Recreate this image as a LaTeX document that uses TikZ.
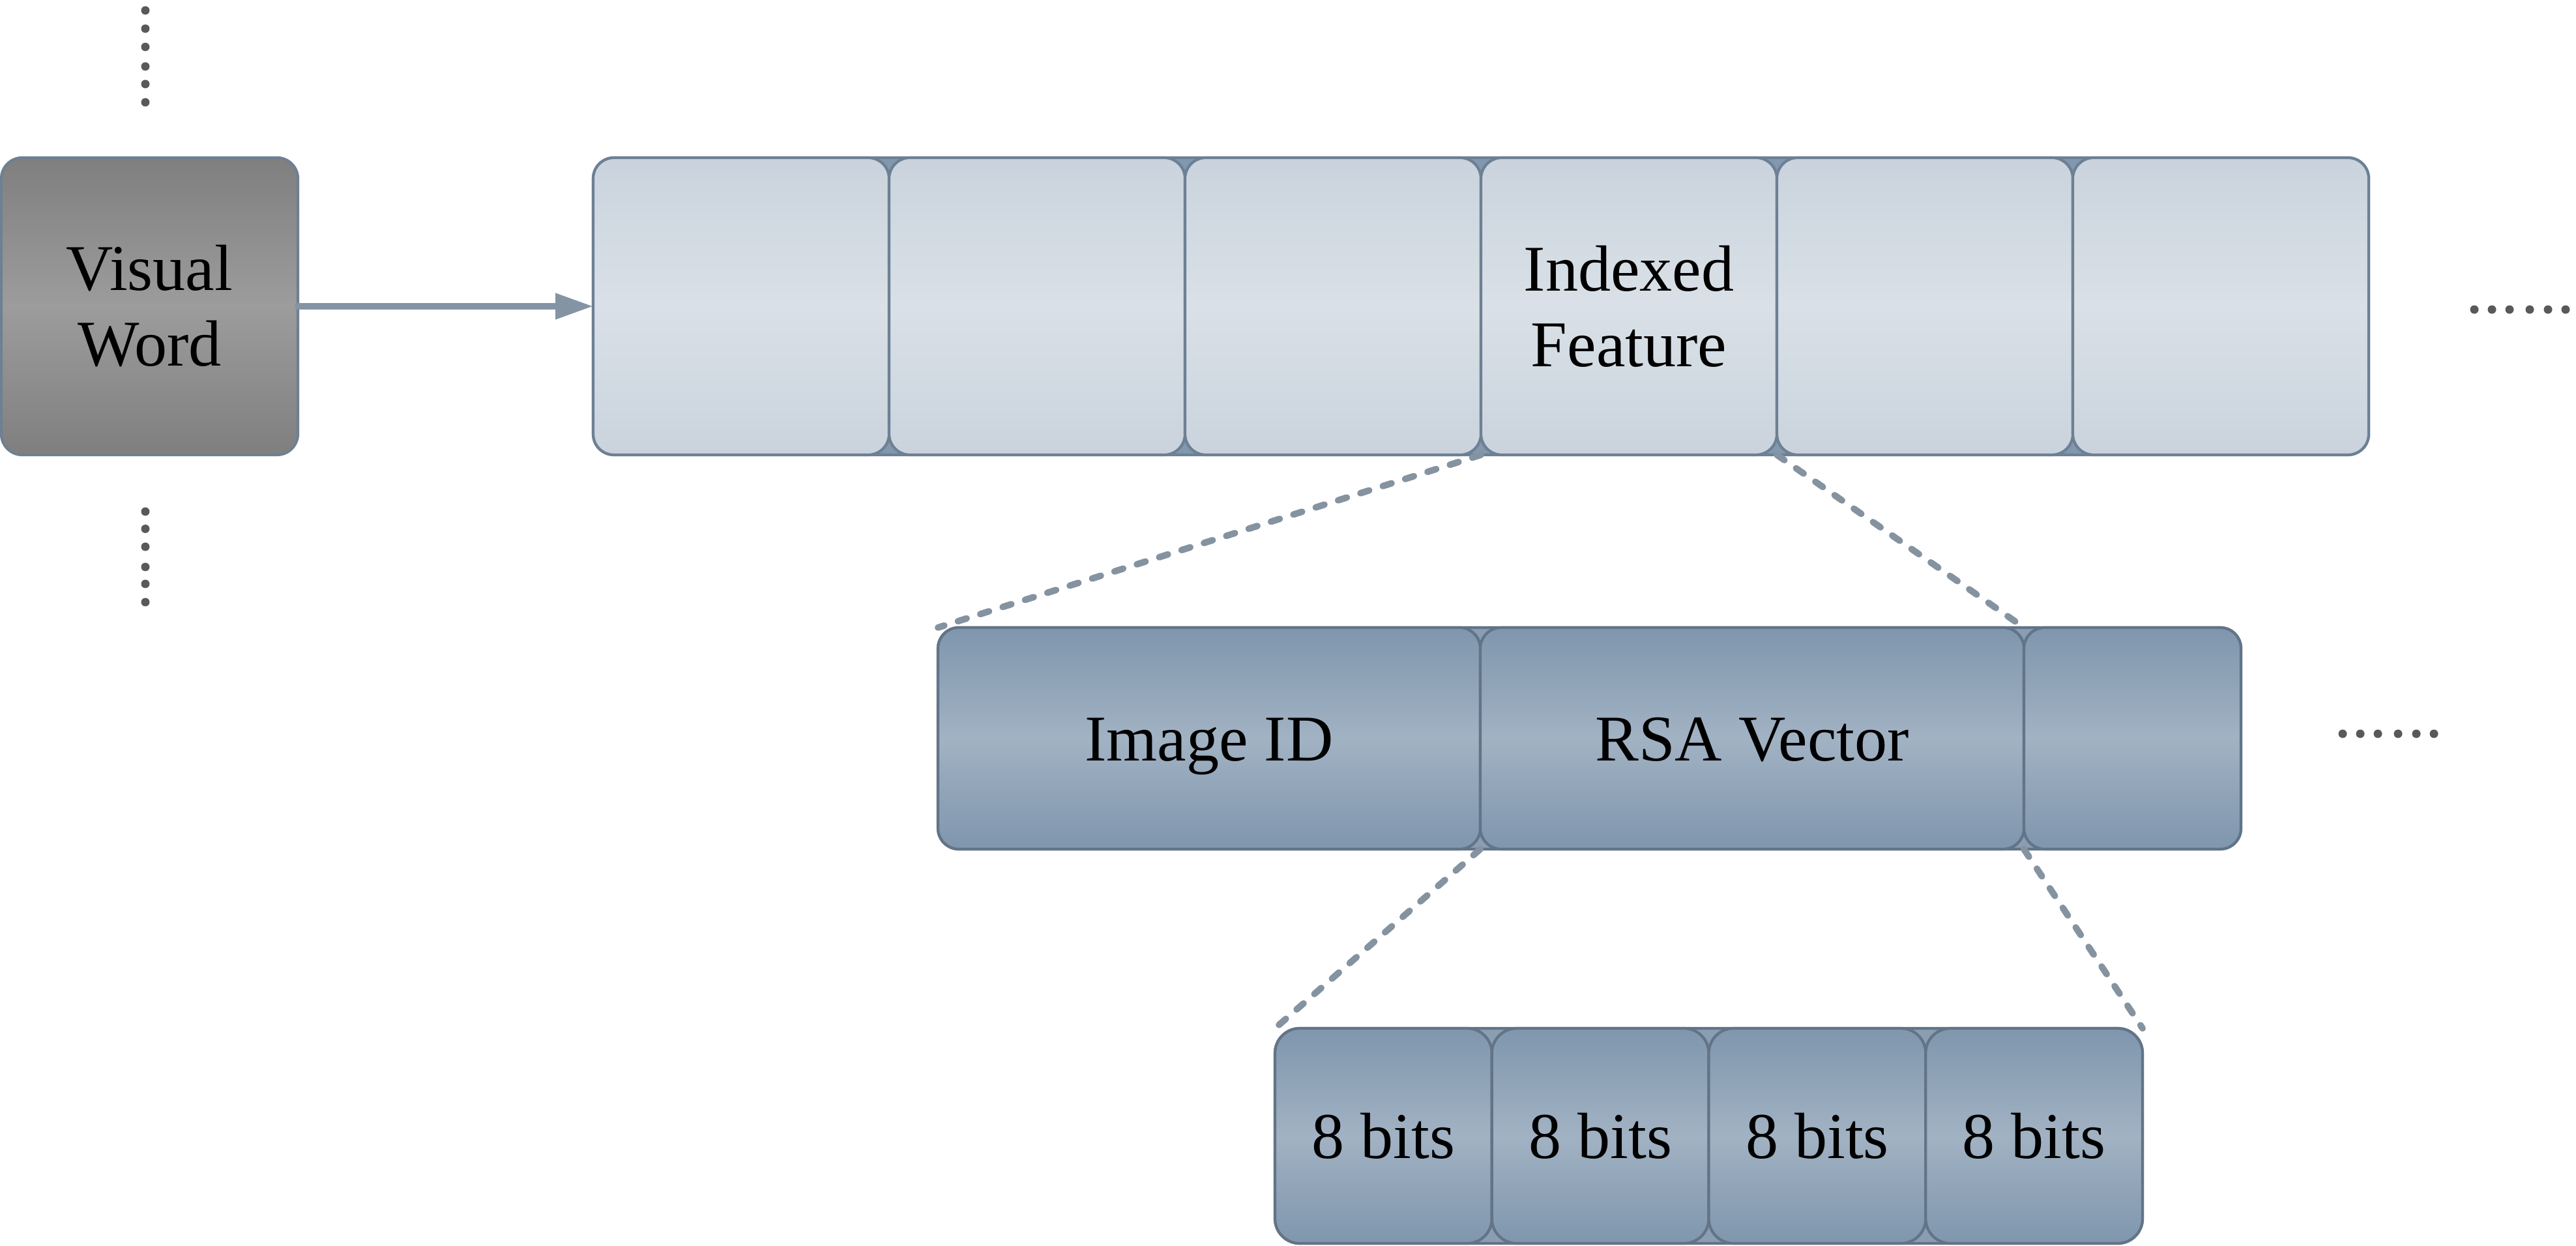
\documentclass[tikz,border=0pt]{standalone}
\usepackage{fontspec}
\setmainfont{Liberation Serif}
\usetikzlibrary{arrows.meta}
\definecolor{vwtop}{HTML}{7F7F7F}
\definecolor{vwmid}{HTML}{9C9C9C}
\definecolor{vwborder}{HTML}{6E8091}
\definecolor{ltop}{HTML}{CAD3DD}
\definecolor{lmid}{HTML}{D9E0E7}
\definecolor{lborder}{HTML}{6D8094}
\definecolor{lback}{HTML}{8198AF}
\definecolor{dtop}{HTML}{7F96AD}
\definecolor{dmid}{HTML}{A1B2C3}
\definecolor{dborder}{HTML}{627487}
\definecolor{dback}{HTML}{8A9DB1}
\definecolor{conn}{HTML}{8593A0}
\definecolor{arrowcol}{HTML}{8494A4}
\definecolor{dotcol}{HTML}{595959}
\begin{document}
\begin{tikzpicture}[x=1cm,y=1cm,
  cell/.style={draw, rounded corners=0.32cm, line width=1.2pt, inner sep=0pt, outer sep=0pt,
    text=black, font=\fontsize{28.5}{33}\selectfont, align=center},
  vwbox/.style={cell, draw=vwborder, top color=vwtop, bottom color=vwtop, middle color=vwmid,
    minimum width=4.55cm, minimum height=4.56cm},
  lightbox/.style={cell, draw=lborder, top color=ltop, bottom color=ltop, middle color=lmid,
    minimum width=4.54cm, minimum height=4.56cm},
  darkbox/.style={cell, draw=dborder, top color=dtop, bottom color=dtop, middle color=dmid,
    minimum height=3.40cm, text height=0.93cm, text depth=0.25cm},
  bitbox/.style={cell, draw=dborder, top color=dtop, bottom color=dtop, middle color=dmid,
    rounded corners=0.38cm, minimum width=3.3275cm, minimum height=3.30cm},
  backing/.style={line width=1.2pt, rounded corners=0.32cm},
  link/.style={draw=conn, line width=2.85pt, line cap=round, dash pattern=on 0.14cm off 0.22cm},
  feed/.style={draw=arrowcol, line width=2.8pt, line cap=round, -{Triangle[length=5.8mm,width=3.8mm]}},
  dotmark/.style={fill=dotcol}
]
\useasboundingbox (0,0) rectangle (39.52,-19.12);

% backing strips
\draw[backing, draw=lborder, fill=lback] (9.10,-2.42) rectangle (36.34,-6.98);
\draw[backing, draw=dborder, fill=dback] (14.39,-9.63) rectangle (34.38,-13.03);
\draw[backing, draw=dborder, fill=dback, rounded corners=0.38cm] (19.56,-15.78) rectangle (32.87,-19.08);

% visual word
\node[vwbox] (vw) at (2.295,-4.70) {Visual\\Word};

% top row
\node[lightbox] (t1) at (11.37,-4.70) {};
\node[lightbox] (t2) at (15.91,-4.70) {};
\node[lightbox] (t3) at (20.45,-4.70) {};
\node[lightbox] (t4) at (24.99,-4.70) {Indexed\\Feature};
\node[lightbox] (t5) at (29.53,-4.70) {};
\node[lightbox] (t6) at (34.07,-4.70) {};

% middle row
\node[darkbox, minimum width=8.32cm] (m1) at (18.55,-11.33) {Image ID};
\node[darkbox, minimum width=8.34cm] (m2) at (26.88,-11.33) {RSA Vector};
\node[darkbox, minimum width=3.33cm] (m3) at (32.715,-11.33) {};

% bottom row
\node[bitbox] (b1) at (21.224,-17.43) {8 bits};
\node[bitbox] (b2) at (24.551,-17.43) {8 bits};
\node[bitbox] (b3) at (27.879,-17.43) {8 bits};
\node[bitbox] (b4) at (31.206,-17.43) {8 bits};

% connectors
\draw[feed] (vw.east) -- (t1.west);
\draw[link] (t4.south west) -- (m1.north west);
\draw[link] (t4.south east) -- (m2.north east);
\draw[link] (m2.south west) -- (b1.north west);
\draw[link] (m2.south east) -- (b4.north east);

% ellipsis dots
\foreach \y in {0.16,0.44,0.72,1.02,1.29,1.57} {
  \fill[dotmark] (2.23,-\y) circle (0.065);
}
\foreach \y in {7.85,8.115,8.39,8.70,8.96,9.24} {
  \fill[dotmark] (2.23,-\y) circle (0.065);
}
\foreach \x in {37.96,38.23,38.50,38.81,39.09,39.36} {
  \fill[dotmark] (\x,-4.75) circle (0.065);
}
\foreach \x in {35.94,36.21,36.48,36.79,37.07,37.34} {
  \fill[dotmark] (\x,-11.26) circle (0.065);
}
\end{tikzpicture}
\end{document}
